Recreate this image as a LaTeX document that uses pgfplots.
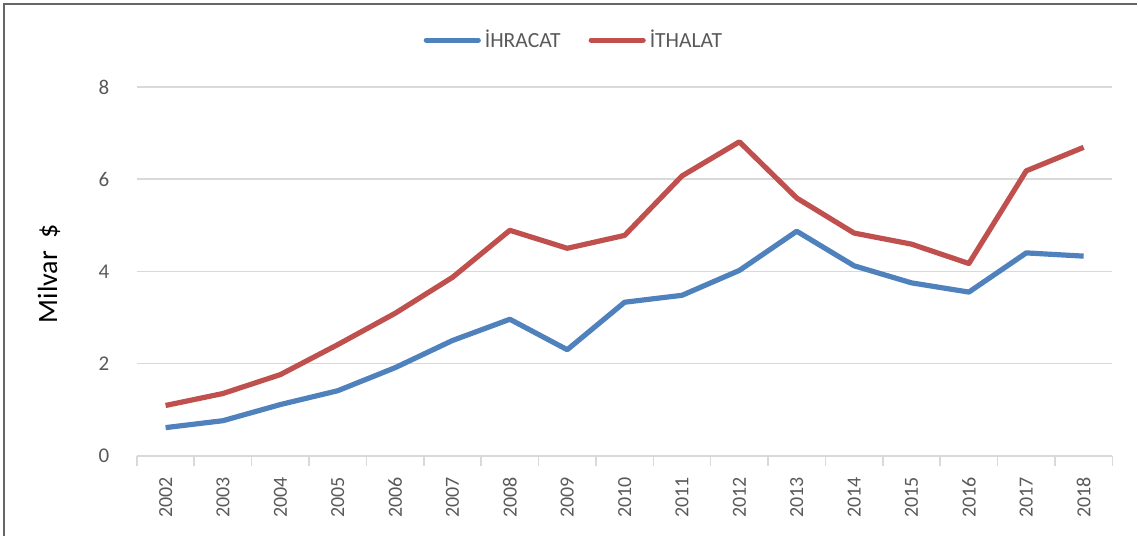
\documentclass[border=0pt]{standalone}
\usepackage{fontspec}
\setmainfont{Carlito}
\usepackage{pgfplots}
\pgfplotsset{compat=1.18}
\usepackage{pgfplotstable}
\definecolor{exblue}{HTML}{4F81BD}
\definecolor{exred}{HTML}{C0504D}
\definecolor{txtgray}{HTML}{595959}
\definecolor{gridgray}{HTML}{D9D9D9}
\pgfplotstableread{
x ihracat ithalat
0 0.61 1.09
1 0.76 1.35
2 1.11 1.76
3 1.41 2.41
4 1.91 3.09
5 2.50 3.87
6 2.96 4.89
7 2.30 4.50
8 3.33 4.78
9 3.48 6.07
10 4.02 6.81
11 4.87 5.59
12 4.12 4.83
13 3.75 4.59
14 3.55 4.17
15 4.40 6.18
16 4.33 6.69
}\datatable
\begin{document}
\begin{tikzpicture}
\path (0,0) rectangle (569pt,268pt);
\draw[black!60, line width=0.7pt] (2pt,0pt) -- (2pt,266pt) -- (569pt,266pt);
\begin{axis}[
  at={(68.5pt,40pt)}, anchor=south west,
  scale only axis, width=488pt, height=184.5pt,
  xmin=-0.5, xmax=16.5, ymin=0, ymax=8,
  xtick={0,...,16},
  xticklabels={2002,2003,2004,2005,2006,2007,2008,2009,2010,2011,2012,2013,2014,2015,2016,2017,2018},
  x tick label style={rotate=90, anchor=east, font=\fontsize{10}{12}\selectfont, text=txtgray, xshift=-3pt},
  major x tick style={draw=none},
  minor xtick={-0.5,0.5,...,16.5},
  minor x tick style={gridgray, line width=0.8pt},
  minor tick length=5pt,
  tick align=outside,
  ytick={0,2,4,6,8},
  y tick label style={font=\fontsize{10.5}{12}\selectfont, text=txtgray, xshift=-6pt},
  major y tick style={draw=none},
  ymajorgrids, grid style={gridgray, line width=0.8pt},
  axis x line*=bottom, axis y line*=left,
  x axis line style={gridgray, line width=0.8pt, -},
  y axis line style={draw=none},
  /pgf/number format/assume math mode=true,
  legend columns=2,
  legend style={at={(0.449,1.127)}, anchor=center, draw=none, fill=none,
    font=\fontsize{10.8}{12}\selectfont, text=txtgray,
    /tikz/every even column/.append style={column sep=12pt}},
  legend image code/.code={\draw[#1, line cap=round] (0pt,0pt) -- (26pt,0pt);},
  clip=false,
]
\addplot[exblue, line width=2.6pt, line join=round] table[x=x, y=ihracat] {\datatable};
\addlegendentry{İHRACAT}
\addplot[exred, line width=2.6pt, line join=round] table[x=x, y=ithalat] {\datatable};
\addlegendentry{İTHALAT}
\end{axis}
\node[rotate=90, font=\fontsize{14}{16}\selectfont, text=black] at (24.5pt,131pt) {Milvar \ \$};
\end{tikzpicture}
\end{document}
